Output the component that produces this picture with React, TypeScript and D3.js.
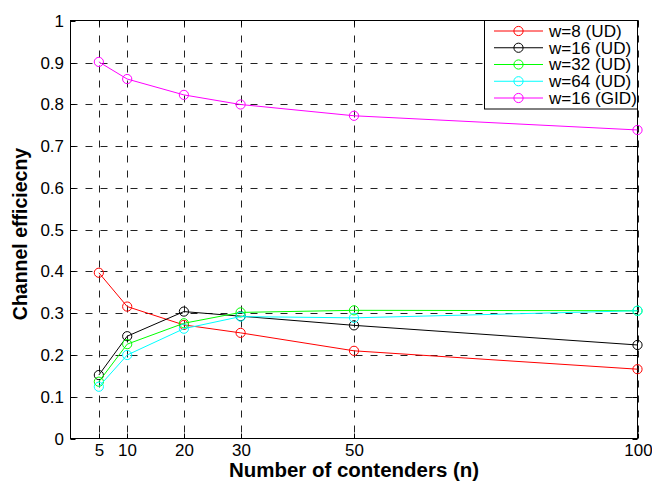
import React from "react";
import * as d3 from "d3";

const contenders = [5, 10, 20, 30, 50, 100];
const w8UD = [0.397, 0.316, 0.272, 0.253, 0.21, 0.166];
const w16UD = [0.152, 0.245, 0.304, 0.293, 0.271, 0.224];
const w32UD = [0.136, 0.226, 0.276, 0.302, 0.307, 0.306];
const w64UD = [0.124, 0.2, 0.263, 0.292, 0.289, 0.306];
const w16GID = [0.902, 0.861, 0.823, 0.8, 0.773, 0.739];
const seriesNames = ["w=8 (UD)", "w=16 (UD)", "w=32 (UD)", "w=64 (UD)", "w=16 (GID)"];
const seriesColors = ["#ff0000", "#000000", "#00ff00", "#00ffff", "#ff00ff"];
const xTicks = [5, 10, 20, 30, 50, 100];
const yTicks = [0, 0.1, 0.2, 0.3, 0.4, 0.5, 0.6, 0.7, 0.8, 0.9, 1];
const yTickLabels = ["0", "0.1", "0.2", "0.3", "0.4", "0.5", "0.6", "0.7", "0.8", "0.9", "1"];

const W = 652;
const H = 485;
const L = 70.5, R = 637.5, T = 20.5, B = 438.5;
const FONT = "Arial, 'Liberation Sans', sans-serif";
const SX = 1.06;

export default function App() {
  const x = d3.scaleLinear().domain([0, 100]).range([L, R]);
  const y = d3.scaleLinear().domain([0, 1]).range([B, T + 0.5]);
  const allSeries = [w8UD, w16UD, w32UD, w64UD, w16GID];
  const line = d3
    .line<[number, number]>()
    .x((d) => x(d[0]))
    .y((d) => y(d[1]));
  const tickLen = 5;
  const legX = 484.5, legY = 20.5, legW = R - 484.5, legH = 88.5;
  const legRow = 16.75;

  return (
    <div style={{ position: "fixed", left: 0, top: 0 }}>
      <svg width={W} height={H} style={{ display: "block", background: "#fff" }} fontFamily={FONT}>
        <rect x={0} y={0} width={W} height={H} fill="#fff" />
        {/* grid */}
        {xTicks.map((t) => (
          <line key={"gx" + t} x1={Math.round(x(t)) + 0.5} x2={Math.round(x(t)) + 0.5} y1={T} y2={B}
            stroke="#222" strokeWidth={1} strokeDasharray="7,8" />
        ))}
        {yTicks.slice(1, -1).map((t) => (
          <line key={"gy" + t} x1={L} x2={R} y1={Math.round(y(t)) + 0.5} y2={Math.round(y(t)) + 0.5}
            stroke="#222" strokeWidth={1} strokeDasharray="7,8" />
        ))}
        {/* ticks */}
        {xTicks.map((t) => {
          const px = Math.round(x(t)) + 0.5;
          return (
            <g key={"tx" + t}>
              <line x1={px} x2={px} y1={B} y2={B - tickLen} stroke="#000" />
              <line x1={px} x2={px} y1={T} y2={T + tickLen} stroke="#000" />
              <text transform={`translate(${px},456) scale(${SX},1)`} fontSize={16} textAnchor="middle" fill="#000">{t}</text>
            </g>
          );
        })}
        {yTicks.map((t, i) => {
          const py = Math.round(y(t)) + 0.5;
          return (
            <g key={"ty" + t}>
              <line x1={L} x2={L + tickLen} y1={py} y2={py} stroke="#000" />
              <line x1={R} x2={R - tickLen} y1={py} y2={py} stroke="#000" />
              <text transform={`translate(64,${py}) scale(${SX},1)`} dy="0.35em" fontSize={16} textAnchor="end" fill="#000">{yTickLabels[i]}</text>
            </g>
          );
        })}
        {/* box */}
        <rect x={L} y={T} width={R - L} height={B - T} fill="none" stroke="#000" strokeWidth={1} />
        {/* series */}
        {allSeries.map((vals, si) => {
          const pts = contenders.map((c, i) => [c, vals[i]] as [number, number]);
          return (
            <g key={"s" + si}>
              <path d={line(pts) || ""} fill="none" stroke={seriesColors[si]} strokeWidth={1} />
              {pts.map((p, i) => (
                <circle key={i} cx={x(p[0])} cy={y(p[1])} r={4.6} fill="none" stroke={seriesColors[si]} strokeWidth={1} />
              ))}
            </g>
          );
        })}
        {/* legend */}
        <rect x={legX} y={legY} width={legW} height={legH} fill="#fff" stroke="#000" strokeWidth={1} />
        {seriesNames.map((n, i) => {
          const ly = 31 + i * legRow;
          return (
            <g key={"l" + i}>
              <line x1={494} x2={543} y1={ly} y2={ly} stroke={seriesColors[i]} strokeWidth={1} />
              <circle cx={518.5} cy={ly} r={4.6} fill="none" stroke={seriesColors[i]} strokeWidth={1} />
              <text transform={`translate(549,${ly}) scale(1.07,1)`} dy="0.36em" fontSize={16} fill="#000">{n}</text>
            </g>
          );
        })}
        {/* axis titles */}
        <text transform={`translate(354,477) scale(1.05,1)`} fontSize={19.5} fontWeight="bold" textAnchor="middle" fill="#000">
          Number of contenders (n)
        </text>
        <text transform={`translate(27,234) rotate(-90)`} fontSize={19.5} fontWeight="bold" textAnchor="middle" fill="#000">
          Channel efficiecny
        </text>
      </svg>
    </div>
  );
}
